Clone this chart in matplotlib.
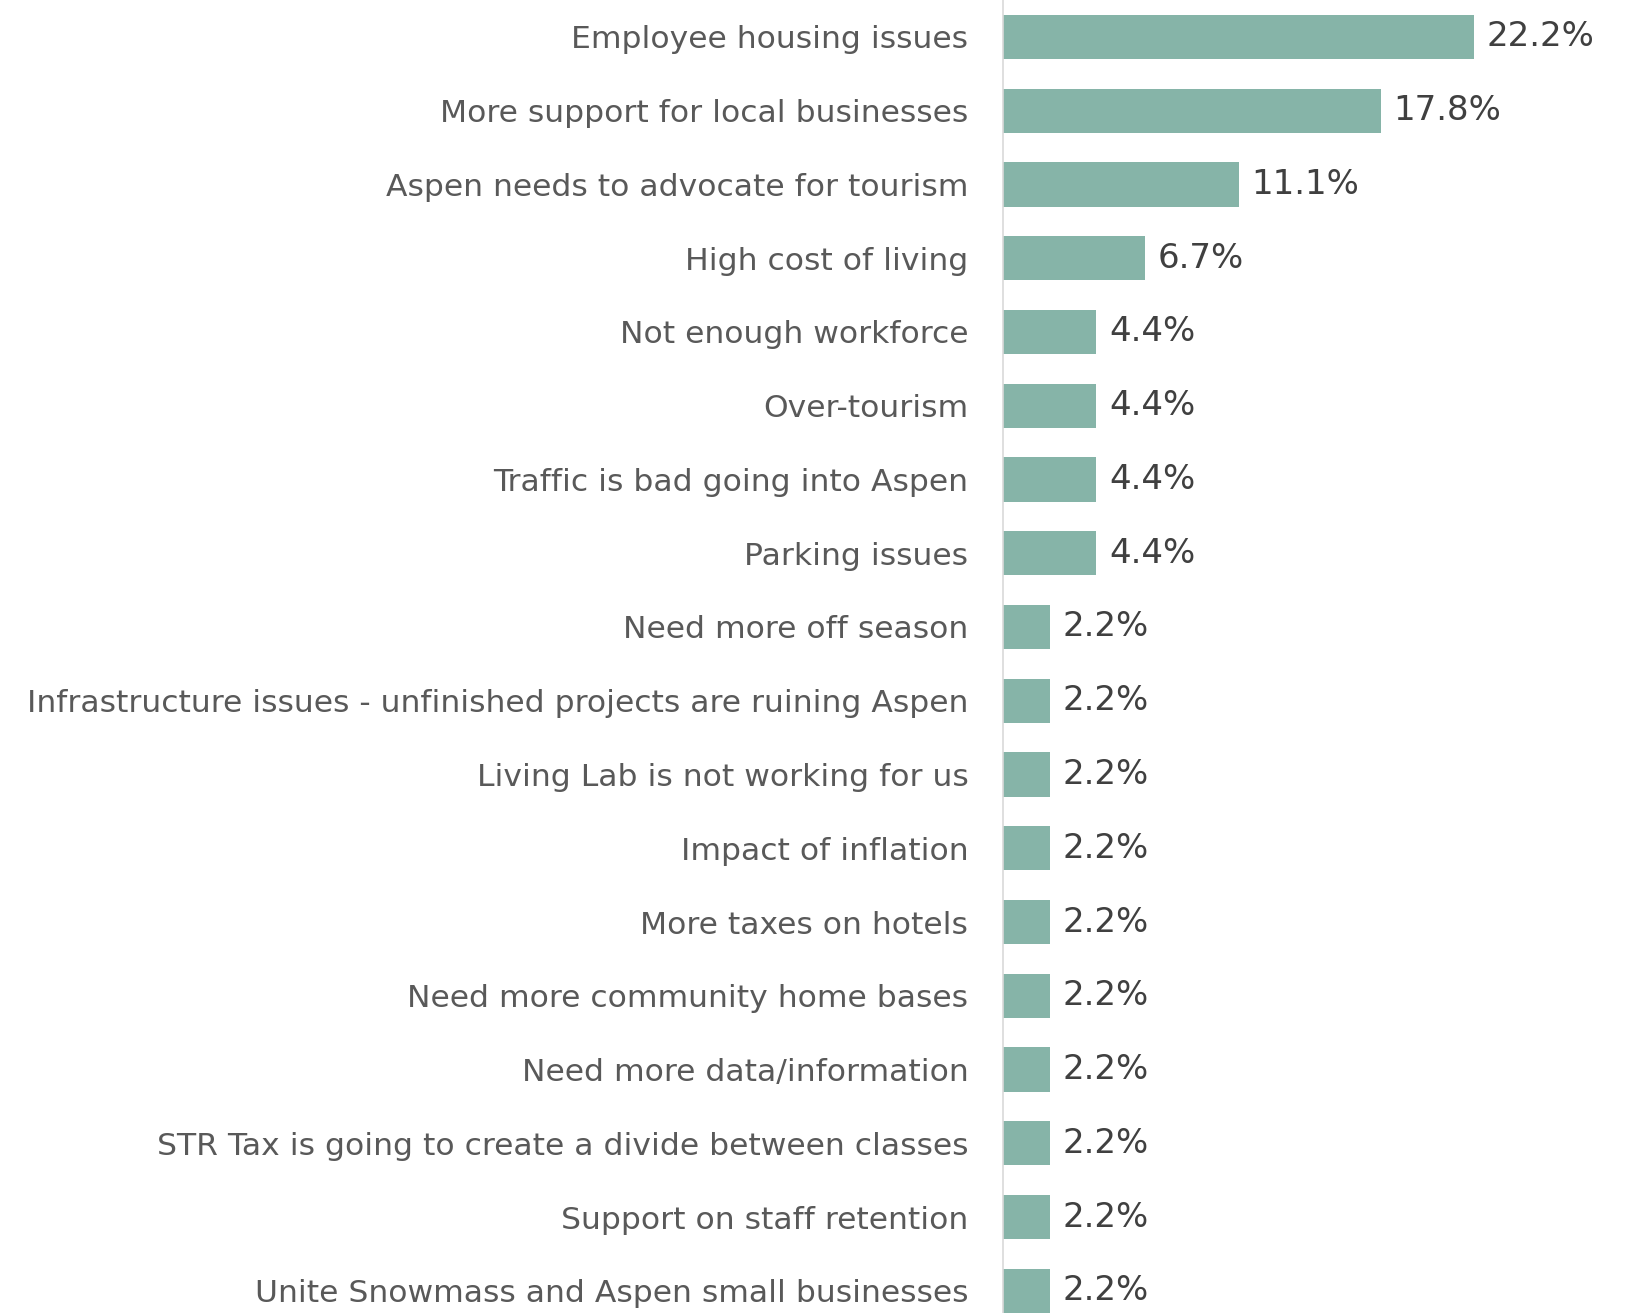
import matplotlib
matplotlib.use("Agg")
import matplotlib.pyplot as plt

# survey responses, share of mentions (%)
categories = [
    "Employee housing issues",
    "More support for local businesses",
    "Aspen needs to advocate for tourism",
    "High cost of living",
    "Not enough workforce",
    "Over-tourism",
    "Traffic is bad going into Aspen",
    "Parking issues",
    "Need more off season",
    "Infrastructure issues - unfinished projects are ruining Aspen",
    "Living Lab is not working for us",
    "Impact of inflation",
    "More taxes on hotels",
    "Need more community home bases",
    "Need more data/information",
    "STR Tax is going to create a divide between classes",
    "Support on staff retention",
    "Unite Snowmass and Aspen small businesses",
]
values = [22.2, 17.8, 11.1, 6.7, 4.4, 4.4, 4.4, 4.4,
          2.2, 2.2, 2.2, 2.2, 2.2, 2.2, 2.2, 2.2, 2.2, 2.2]

bar_color = "#86b4a8"
label_color = "#595959"
value_color = "#404040"

fig = plt.figure(figsize=(16.27, 13.13), dpi=100)
ax = fig.add_axes([0.6165, 0.0, 0.3835, 1.0])

y = list(range(len(categories)))
ax.barh(y, values, height=0.6, color=bar_color)

for yi, v in zip(y, values):
    ax.annotate(f"{v:.1f}%", xy=(v, yi), xytext=(9, 0), textcoords="offset points",
                ha="left", va="center", fontsize=24.5, color=value_color,
                family="DejaVu Sans")

ax.set_yticks(y)
ax.set_yticklabels(categories, fontsize=22.6, color=label_color, family="DejaVu Sans")
ax.tick_params(axis="y", length=0, pad=25)
ax.set_xticks([])
ax.set_xlim(0, 29.4)
ax.set_ylim(17.30, -0.50)

for side in ["top", "right", "bottom"]:
    ax.spines[side].set_visible(False)
ax.spines["left"].set_color("#d9d9d9")
ax.spines["left"].set_linewidth(1.2)

fig.savefig("out.png", dpi=100)
